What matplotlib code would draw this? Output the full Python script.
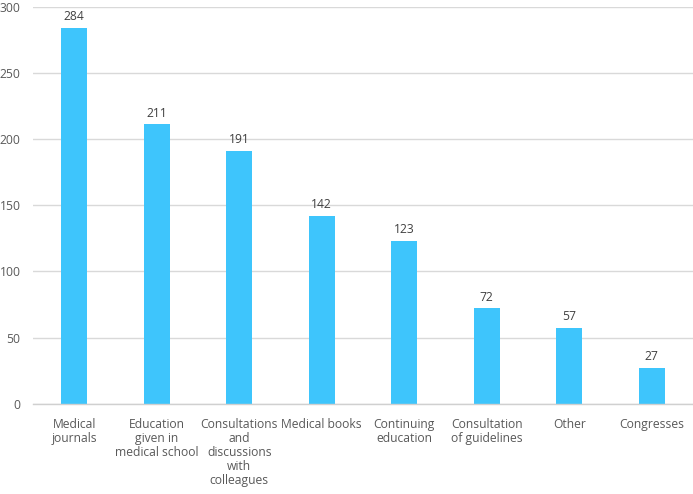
import matplotlib
matplotlib.use("Agg")
import matplotlib.pyplot as plt

categories = ["Medical\njournals", "Education\ngiven in\nmedical school",
              "Consultations\nand\ndiscussions\nwith\ncolleagues", "Medical books",
              "Continuing\neducation", "Consultation\nof guidelines", "Other", "Congresses"]
values = [284, 211, 191, 142, 123, 72, 57, 27]
yticks = [0, 50, 100, 150, 200, 250, 300]

plt.rcParams['font.family'] = ['Open Sans', 'DejaVu Sans']

fig = plt.figure(figsize=(6.93, 4.94), dpi=100)
ax = fig.add_axes([33/693, (494-403.7)/494, 660/693, (403.7-6.6)/494])

x = list(range(len(values)))
ax.bar(x, values, width=0.32, color='#3EC5FC', zorder=3)
for xi, v in zip(x, values):
    ax.annotate(str(v), (xi, v), xytext=(0, 3.5), textcoords='offset points',
                ha='center', va='bottom', fontsize=8.7, color='#404040')

ax.set_xlim(-0.5, len(values) - 0.5)
ax.set_ylim(0, 300)
ax.set_yticks(yticks)
ax.set_xticks(x)
ax.set_xticklabels(categories, fontsize=8.7, color='#595959', linespacing=1.12)
ax.tick_params(axis='y', labelsize=8.7, labelcolor='#595959', length=0, pad=9)
ax.tick_params(axis='x', length=0, pad=10)
ax.grid(axis='y', color='#D9D9D9', linewidth=1, zorder=0)
for s in ['left', 'right', 'top']:
    ax.spines[s].set_visible(False)
ax.spines['bottom'].set_color('#D0D0D0')
ax.spines['bottom'].set_linewidth(1)
ax.spines['bottom'].set_zorder(4)

fig.savefig("out.png", dpi=100)
